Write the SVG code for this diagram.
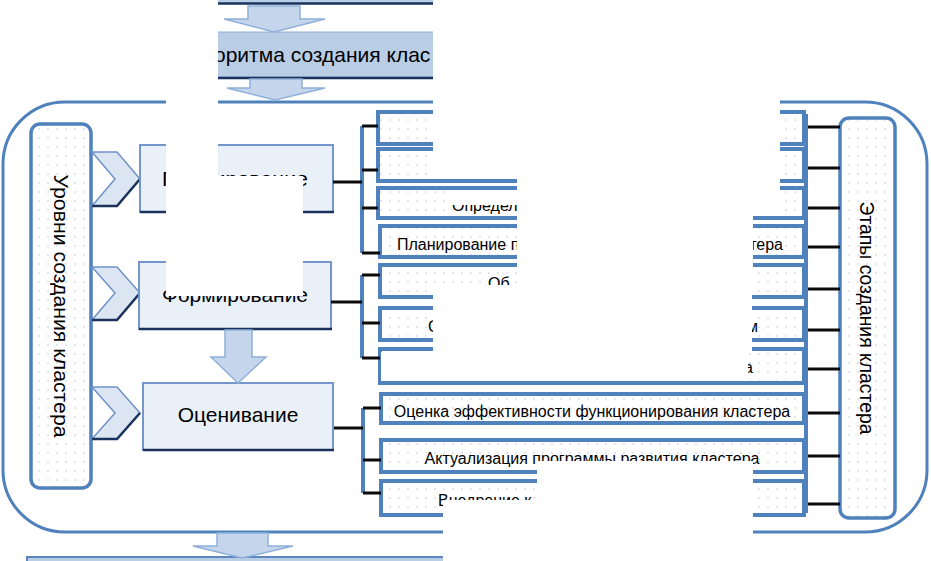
<svg xmlns="http://www.w3.org/2000/svg" width="931" height="561" viewBox="0 0 931 561">
<defs>
<pattern id="dots" width="9" height="9" patternUnits="userSpaceOnUse"><rect width="9" height="9" fill="#fff"/><circle cx="3" cy="3" r="0.75" fill="#b8c2d6"/></pattern>
<style>
.sb{fill:url(#dots);stroke:#4f81bd;stroke-width:4}
.side{fill:url(#dots);stroke:#4f81bd;stroke-width:3.5}
.lv{fill:#eaf0f8;stroke:#7596cc;stroke-width:2}
.sh{stroke:#1b335c;stroke-width:2.5;fill:none}
.arr{fill:#c5d5eb;stroke:#8fb0da;stroke-width:1.5}
.chev{fill:#dce6f2;stroke:#6f92c9;stroke-width:1.5}
.blk{stroke:#0b0b0b;stroke-width:3;fill:none}
.br{stroke:#4f81bd;stroke-width:4;fill:none}
.w{fill:#fff}
.t16{font-family:"Liberation Sans",Arial,sans-serif;font-size:16px;fill:#000}
.t21{font-family:"Liberation Sans",Arial,sans-serif;font-size:21px;fill:#000}
.t20{font-family:"Liberation Sans",Arial,sans-serif;font-size:20px;fill:#000}
</style>
</defs>
<rect width="931" height="561" fill="#fff"/>

<g id="top-box"><rect x="150" y="-40" width="360" height="43" fill="#b9cde5"/><line x1="150" y1="3.5" x2="510" y2="3.5" class="sh"/></g>
<g id="title-box"><rect x="150" y="32" width="360" height="45" fill="#b9cde5" stroke="#8fb0da" stroke-width="1"/><line x1="150" y1="78" x2="510" y2="78" class="sh"/>
<text class="t21" x="214" y="62">оритма создания клас</text></g>

<g id="outer"><rect x="3" y="102" width="924" height="430" rx="62" ry="62" fill="none" stroke="#4f81bd" stroke-width="3"/></g>
<g id="bottom-box"><rect x="27" y="557" width="880" height="30" fill="#b9cde5" stroke="#5b86c0" stroke-width="2"/></g>

<g id="levels-side"><rect class="side" x="31" y="124" width="60" height="364" rx="9"/>
<text class="t20" transform="translate(61,306) rotate(90)" text-anchor="middle" dy="7" textLength="263" lengthAdjust="spacingAndGlyphs">Уровни создания кластера</text></g>
<g id="stages-side"><rect class="side" x="840" y="118" width="55" height="400" rx="9"/>
<text class="t20" transform="translate(867,318) rotate(90)" text-anchor="middle" dy="7" textLength="233" lengthAdjust="spacingAndGlyphs">Этапы создания кластера</text></g>

<g id="chevrons">
<polygon class="chev" points="92,152 117,152 140,179 117,206 92,206 115,179"/><polyline class="sh" points="92,206 117,206 140,179" stroke-width="2"/>
<polygon class="chev" points="92,267 117,267 140,293 117,320 92,320 115,293"/><polyline class="sh" points="92,320 117,320 140,293" stroke-width="2"/>
<polygon class="chev" points="92,387 117,387 140,413 117,439 92,439 115,413"/><polyline class="sh" points="92,439 117,439 140,413" stroke-width="2"/>
</g>

<g id="planning"><rect class="lv" x="140" y="145" width="193" height="67"/><line class="sh" x1="140" y1="212" x2="334" y2="212"/>
<text class="t21" x="162" y="186" textLength="146" lengthAdjust="spacingAndGlyphs">Планирование</text></g>
<g id="forming"><rect class="lv" x="139" y="262" width="192" height="67"/><line class="sh" x1="139" y1="329" x2="332" y2="329"/>
<text class="t21" x="162" y="302" textLength="146" lengthAdjust="spacingAndGlyphs">Формирование</text></g>
<g id="evaluation"><rect class="lv" x="143" y="383" width="190" height="67"/><line class="sh" x1="143" y1="450" x2="334" y2="450"/>
<text class="t21" x="238" y="422" text-anchor="middle">Оценивание</text></g>

<g id="arrows">
<polygon class="arr" points="248,6 300,6 300,19 325,19 274,32 224,19 248,19"/>
<polygon class="arr" points="250,79 302,79 302,88 325,88 275,100 227,88 250,88"/>
<polygon class="arr" points="225,330 252,330 252,357 266,357 238,383 211,357 225,357"/>
<polygon class="arr" points="217,533 268,533 268,546 293,546 242,558 193,546 217,546"/>
</g>

<g id="s1"><rect class="sb" x="378" y="112" width="426" height="32"/></g>
<g id="s2"><rect class="sb" x="378" y="149" width="426" height="32"/></g>
<g id="s3"><rect class="sb" x="378" y="188" width="426" height="30"/><text class="t16" x="452" y="211">Определ</text></g>
<g id="s4"><rect class="sb" x="380" y="226" width="424" height="31"/><text class="t16" x="397" y="250">Планирование п</text><text class="t16" x="783" y="250" text-anchor="end">тера</text></g>
<g id="s5"><rect class="sb" x="380" y="265" width="424" height="32"/><text class="t16" x="488" y="289">Об</text></g>
<g id="s6"><rect class="sb" x="380" y="308" width="424" height="32"/><text class="t16" x="428" y="332">С</text><text class="t16" x="758" y="332" text-anchor="end">м</text></g>
<g id="s7"><rect class="sb" x="380" y="349" width="424" height="34"/><text class="t16" x="753" y="373" text-anchor="end">а</text></g>
<g id="s8"><rect class="sb" x="381" y="394" width="423" height="29"/><text class="t16" x="592" y="417" text-anchor="middle">Оценка эффективности функционирования кластера</text></g>
<g id="s9"><rect class="sb" x="381" y="440" width="423" height="32"/><text class="t16" x="592" y="464" text-anchor="middle">Актуализация программы развития кластера</text></g>
<g id="s10"><rect class="sb" x="381" y="481" width="423" height="34"/><text class="t16" x="438" y="506">Внедрение к</text></g>

<g id="connectors">
<line class="br" x1="362" y1="126" x2="362" y2="253"/>
<line class="blk" x1="333" y1="182" x2="362" y2="182"/>
<path class="blk" d="M362 126H378M362 170H378M362 208H378M362 253H380"/>
<line class="br" x1="362" y1="275" x2="362" y2="358"/>
<line class="blk" x1="331" y1="302" x2="362" y2="302"/>
<path class="blk" d="M362 275H380M362 323H380M362 358H380"/>
<line class="br" x1="363" y1="408" x2="363" y2="493"/>
<line class="blk" x1="334" y1="428" x2="363" y2="428"/>
<path class="blk" d="M363 408H381M363 460H381M363 493H381"/>
<line class="br" x1="806" y1="114" x2="806" y2="513"/>
<path class="blk" d="M808 127H840M808 168H840M808 208H840M808 247H840M808 289H840M808 330H840M808 369H840M808 413H840M808 456H840M808 504H840"/>
</g>

<g id="redactions">
<rect class="w" x="0" y="0" width="218" height="96"/>
<rect class="w" x="433" y="0" width="498" height="96"/>
<rect class="w" x="433" y="96" width="347" height="83"/>
<rect class="w" x="517" y="179" width="263" height="37"/>
<rect class="w" x="517" y="216" width="236" height="69"/>
<rect class="w" x="448" y="191" width="69" height="14"/>
<rect class="w" x="166" y="96" width="52" height="200"/>
<rect class="w" x="166" y="176" width="137" height="120"/>
<rect class="w" x="433" y="285" width="319" height="67"/>
<rect class="w" x="381" y="352" width="367" height="29"/>
<rect class="w" x="537" y="461" width="216" height="39"/>
<rect class="w" x="443" y="500" width="310" height="61"/>
<rect class="w" x="753" y="540" width="178" height="21"/>
</g>
</svg>
